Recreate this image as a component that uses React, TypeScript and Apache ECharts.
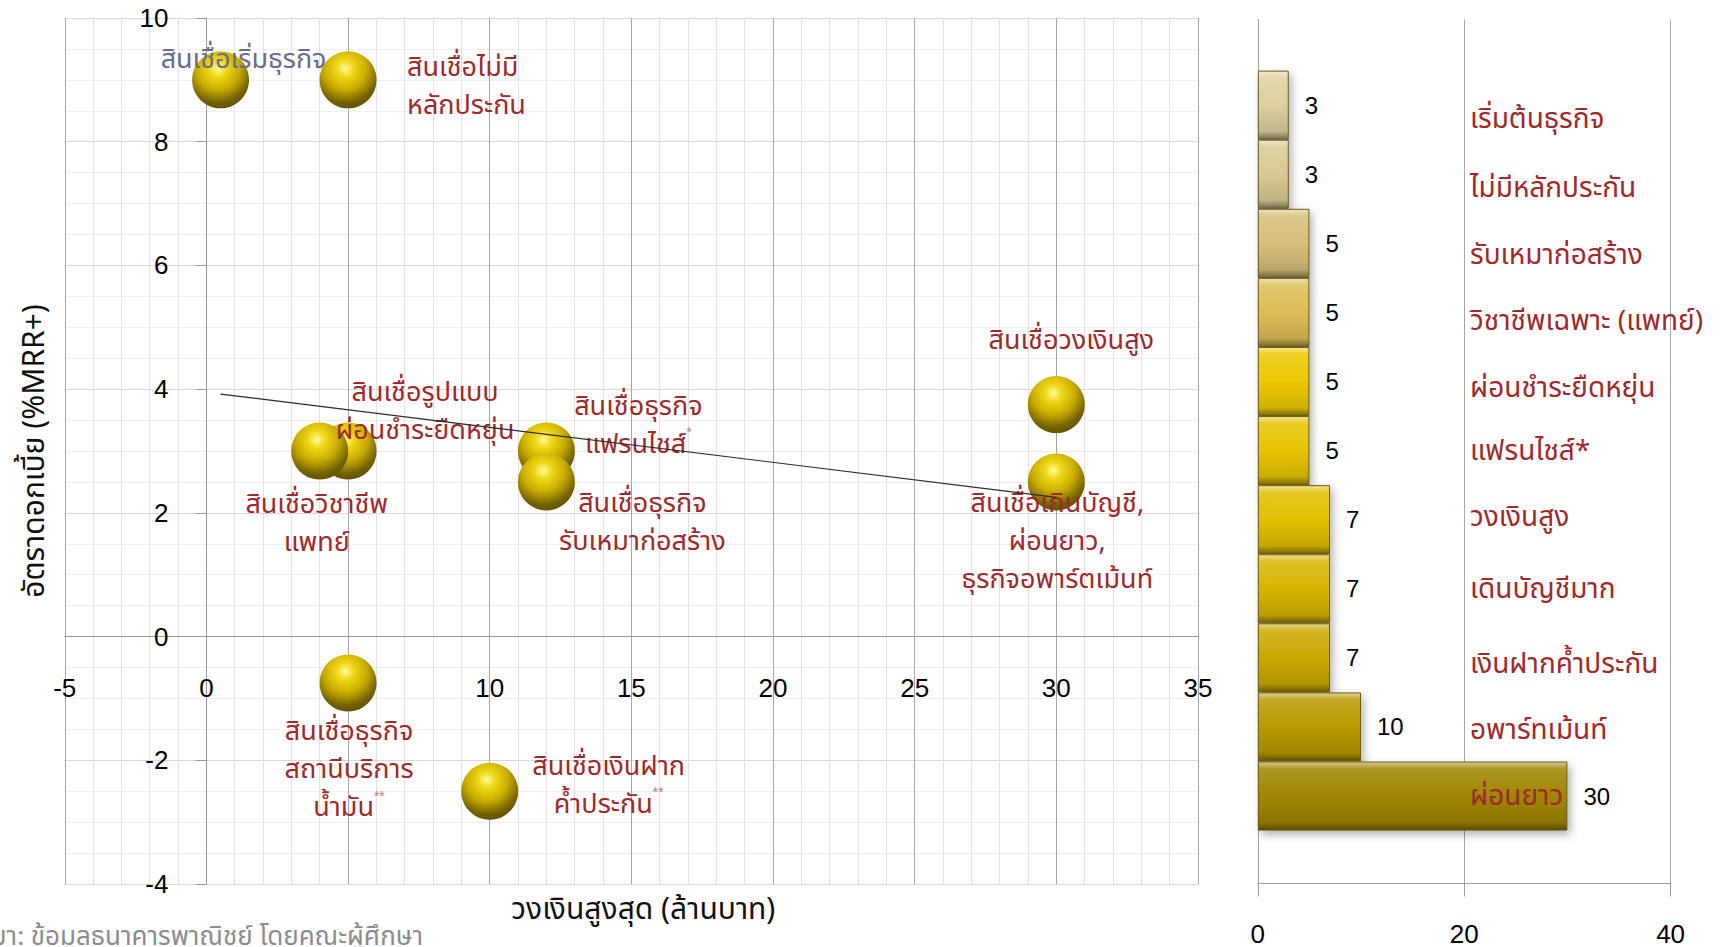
import React, { useEffect, useRef } from 'react';
import * as echarts from 'echarts';

// ---------- data ----------
const pointNames = [
  'สินเชื่อเริ่มธุรกิจ',
  'สินเชื่อไม่มี\nหลักประกัน',
  'สินเชื่อรูปแบบ\nผ่อนชำระยืดหยุ่น',
  'สินเชื่อวิชาชีพ\nแพทย์',
  'สินเชื่อธุรกิจ\nแฟรนไชส์*',
  'สินเชื่อธุรกิจ\nรับเหมาก่อสร้าง',
  'สินเชื่อวงเงินสูง',
  'สินเชื่อเกินบัญชี,\nผ่อนยาว,\nธุรกิจอพาร์ตเม้นท์',
  'สินเชื่อธุรกิจ\nสถานีบริการ\nน้ำมัน**',
  'สินเชื่อเงินฝาก\nค้ำประกัน**',
];
const loanLimit = [0.5, 5, 5, 4, 12, 12, 30, 30, 5, 10];
const interestRate = [9, 9, 3, 3, 3, 2.5, 3.75, 2.5, -0.75, -2.5];
const trendX = [0.5, 30];
const trendY = [3.92, 2.25];

const barCategories = [
  'เริ่มต้นธุรกิจ',
  'ไม่มีหลักประกัน',
  'รับเหมาก่อสร้าง',
  'วิชาชีพเฉพาะ (แพทย์)',
  'ผ่อนชำระยืดหยุ่น',
  'แฟรนไชส์*',
  'วงเงินสูง',
  'เดินบัญชีมาก',
  'เงินฝากค้ำประกัน',
  'อพาร์ทเม้นท์',
  'ผ่อนยาว',
];
const barValues = [3, 3, 5, 5, 5, 5, 7, 7, 7, 10, 30];

const xTitle = 'วงเงินสูงสุด (ล้านบาท)';
const yTitle = 'อัตราดอกเบี้ย (%MRR+)';
const sourceText = 'ที่มา: ข้อมูลธนาคารพาณิชย์ โดยคณะผู้ศึกษา';

// ---------- styles / layout ----------
const THAI = "'Noto Sans Thai', Tahoma, 'DejaVu Sans', 'Noto Sans', sans-serif";
const NUM = "'Liberation Sans', Arial, sans-serif";
const RED = '#9e2a2b';

const G0 = { left: 64.75, top: 18, width: 1133.2, height: 866 };
const X_MIN = -5, X_MAX = 35, Y_MIN = -4, Y_MAX = 10;

const labelLayout: { align: string; dx: number; dy: number; color?: string }[] = [
  { align: 'center', dx: 23, dy: -20, color: '#6b6b8e' },
  { align: 'left', dx: 59, dy: 7 },
  { align: 'center', dx: 77, dy: -40 },
  { align: 'center', dx: -3, dy: 72 },
  { align: 'center', dx: 92, dy: -26 },
  { align: 'center', dx: 96, dy: 41 },
  { align: 'center', dx: 15, dy: -64 },
  { align: 'center', dx: 1, dy: 60 },
  { align: 'center', dx: 1, dy: 87 },
  { align: 'center', dx: 119, dy: -6 },
];

const barBase = ['#ddd0a0', '#d8ca94', '#d6bf78', '#dcbd55', '#ecc800', '#e6c300', '#e0bf00', '#d6b500', '#caa900', '#b89a00', '#a08600'];
const catShift = [14, 14, 12, 9, 7, 1, -2, 1, 7, 4, 0];

function mix(hex: string, target: number, t: number) {
  const n = parseInt(hex.slice(1), 16);
  const r = (n >> 16) & 255, g = (n >> 8) & 255, b = n & 255;
  const f = (c: number) => Math.round(c + (target - c) * t);
  return `rgb(${f(r)},${f(g)},${f(b)})`;
}
function barGradient(hex: string) {
  return new echarts.graphic.LinearGradient(0, 0, 0, 1, [
    { offset: 0, color: mix(hex, 255, 0.55) },
    { offset: 0.1, color: mix(hex, 255, 0.15) },
    { offset: 0.5, color: hex },
    { offset: 0.88, color: mix(hex, 0, 0.12) },
    { offset: 1, color: mix(hex, 0, 0.45) },
  ]);
}

const sphere = {
  type: 'radial',
  x: 0.45,
  y: 0.3,
  r: 0.75,
  colorStops: [
    { offset: 0, color: '#fffb9a' },
    { offset: 0.2, color: '#f0d816' },
    { offset: 0.5, color: '#c9ac00' },
    { offset: 0.8, color: '#746100' },
    { offset: 1, color: '#5b4c00' },
  ],
};

function richText(s: string) {
  return s.replace(/(\*+)/g, '{s|$1}');
}

function buildOption() {
  const scatterData = loanLimit.map((x, i) => {
    const L = labelLayout[i];
    return {
      name: pointNames[i],
      value: [x, interestRate[i]],
      label: {
        show: true,
        position: 'inside',
        align: L.align,
        verticalAlign: 'middle',
        offset: [L.dx, L.dy],
        formatter: richText(pointNames[i]),
        color: L.color || RED,
      },
    };
  });

  // place the axes on the zero lines (through offsets, so labels and names follow)
  const yAxisOffset = -((0 - X_MIN) / (X_MAX - X_MIN)) * G0.width;
  const xAxisOffset = -((0 - Y_MIN) / (Y_MAX - Y_MIN)) * G0.height;

  const gridBase = { containLabel: false, outerBoundsMode: 'none' };

  const catRich: Record<string, any> = {};
  catShift.forEach((s, i) => {
    catRich['c' + i] = {
      fontFamily: THAI,
      fontSize: 28,
      color: RED,
      padding: s >= 0 ? [s * 2, 0, 0, 0] : [0, 0, -s * 2, 0],
    };
  });

  return {
    animation: false,
    backgroundColor: '#ffffff',
    grid: [
      { ...gridBase, ...G0 },
      { ...gridBase, left: 1257.8, top: 19.5, width: 412.8, height: 864 },
      { ...gridBase, left: 1257.8, top: 70.6, width: 412.8, height: 760 },
    ],
    xAxis: [
      {
        gridIndex: 0,
        type: 'value',
        min: X_MIN,
        max: X_MAX,
        interval: 5,
        position: 'bottom',
        offset: xAxisOffset,
        name: xTitle,
        nameLocation: 'middle',
        nameGap: 258,
        nameTextStyle: { fontFamily: THAI, fontSize: 30, color: '#111', padding: [0, 0, 0, 24] },
        axisLine: { show: true, onZero: false, lineStyle: { color: '#9a9a9a', width: 1 } },
        axisTick: { show: false },
        axisLabel: { margin: 38, fontFamily: NUM, fontSize: 26, color: '#000' },
        splitLine: { show: true, lineStyle: { color: '#a6a6a6', width: 1 } },
        minorTick: { show: false, splitNumber: 5 },
        minorSplitLine: { show: true, lineStyle: { color: '#e2e2e2', width: 1 } },
      },
      {
        gridIndex: 1,
        type: 'value',
        min: 0,
        max: 40,
        interval: 20,
        axisLine: { show: true, lineStyle: { color: '#a0a0a0' } },
        axisTick: { show: true, length: 13, lineStyle: { color: '#a0a0a0' } },
        axisLabel: { margin: 37, fontFamily: NUM, fontSize: 26, color: '#000' },
        splitLine: { show: true, lineStyle: { color: '#a6a6a6' } },
      },
      { gridIndex: 2, type: 'value', min: 0, max: 40, show: false },
    ],
    yAxis: [
      {
        gridIndex: 0,
        type: 'value',
        min: Y_MIN,
        max: Y_MAX,
        interval: 2,
        position: 'left',
        offset: yAxisOffset,
        name: yTitle,
        nameLocation: 'middle',
        nameRotate: 90,
        nameGap: 156,
        nameTextStyle: { fontFamily: THAI, fontSize: 30, color: '#111' },
        axisLine: { show: true, onZero: false, lineStyle: { color: '#9a9a9a', width: 1 } },
        axisTick: { show: true, length: 11, lineStyle: { color: '#9a9a9a' } },
        axisLabel: { margin: 38, fontFamily: NUM, fontSize: 26, color: '#000' },
        splitLine: { show: true, lineStyle: { color: '#d9d9d9', width: 1 } },
        minorTick: { show: false, splitNumber: 4 },
        minorSplitLine: { show: true, lineStyle: { color: '#efefef', width: 1 } },
      },
      {
        gridIndex: 1,
        type: 'value',
        min: 0,
        max: 1,
        axisLine: { show: true, onZero: false, lineStyle: { color: '#a0a0a0' } },
        axisTick: { show: false },
        axisLabel: { show: false },
        splitLine: { show: false },
      },
      {
        gridIndex: 2,
        type: 'category',
        inverse: true,
        position: 'right',
        offset: -(1670.6 - 1470),
        z: 6,
        data: barCategories,
        axisLine: { show: false },
        axisTick: { show: false },
        splitLine: { show: false },
        axisLabel: {
          margin: 0,
          align: 'left',
          fontFamily: THAI,
          fontSize: 28,
          color: RED,
          formatter: (v: string, i: number) => `{c${i}|${v}}`,
          rich: catRich,
        },
      },
    ],
    series: [
      {
        type: 'scatter',
        xAxisIndex: 0,
        yAxisIndex: 0,
        symbol: 'circle',
        symbolSize: 57,
        z: 2,
        itemStyle: { color: sphere, opacity: 1 },
        label: {
          fontFamily: THAI,
          fontSize: 27,
          lineHeight: 38,
          rich: { s: { fontSize: 14, color: '#c07a7a', fontFamily: NUM, verticalAlign: 'top' } },
        },
        emphasis: { disabled: true },
        data: scatterData,
      },
      {
        type: 'line',
        xAxisIndex: 0,
        yAxisIndex: 0,
        symbol: 'none',
        z: 3,
        lineStyle: { color: '#2a2a2a', width: 1.2 },
        data: trendX.map((x, i) => [x, trendY[i]]),
      },
      {
        type: 'bar',
        xAxisIndex: 2,
        yAxisIndex: 2,
        barCategoryGap: '0%',
        z: 2,
        itemStyle: {
          borderColor: '#6b5c1a',
          borderWidth: 1,
          shadowBlur: 8,
          shadowOffsetX: 3,
          shadowOffsetY: 4,
          shadowColor: 'rgba(0,0,0,0.3)',
        },
        label: { show: true, position: 'right', distance: 16, color: '#000', fontFamily: NUM, fontSize: 24 },
        data: barValues.map((v, i) => ({ value: v, itemStyle: { color: barGradient(barBase[i]) } })),
      },
    ],
    graphic: [
      {
        type: 'text',
        x: 423,
        y: 937,
        style: {
          text: sourceText,
          align: 'right',
          verticalAlign: 'middle',
          fill: '#8c8c8c',
          fontSize: 26,
          fontFamily: THAI,
        },
      },
    ],
  };
}

export default function App() {
  const ref = useRef<HTMLDivElement>(null);
  useEffect(() => {
    if (!ref.current) return;
    const chart = echarts.init(ref.current, null, { renderer: 'svg' });
    chart.setOption(buildOption() as any);
    return () => chart.dispose();
  }, []);
  return (
    <div
      ref={ref}
      style={{ position: 'fixed', left: 0, top: 0, width: 1730, height: 947, background: '#fff' }}
    />
  );
}
